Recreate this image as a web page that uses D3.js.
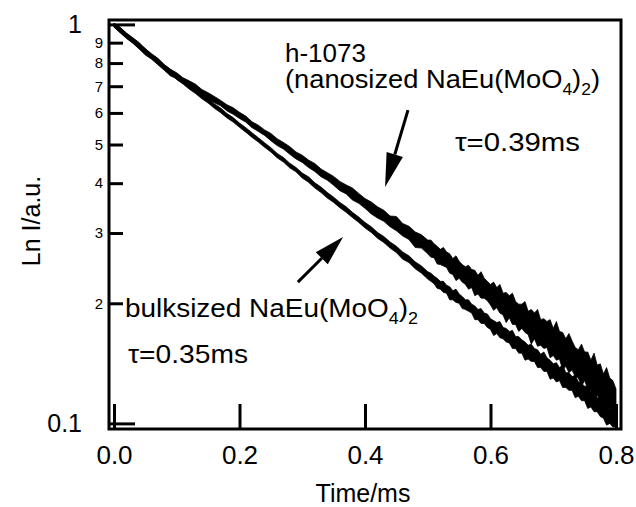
<!DOCTYPE html>
<html>
<head>
<meta charset="utf-8">
<script src="https://cdn.jsdelivr.net/npm/d3@7/dist/d3.min.js"></script>
<style>
  body { margin: 0; background: #fff; }
  text { font-family: "Liberation Sans", Arial, Helvetica, sans-serif; fill: #000; }
</style>
</head>
<body>
<svg id="chart" width="636" height="507"></svg>
<script>
// time axis (ms); sampled twice as densely after 0.5 ms where the noise grows
const time = [0.00,0.01,0.02,0.03,0.04,0.05,0.06,0.07,0.08,0.09,
  0.10,0.11,0.12,0.13,0.14,0.15,0.16,0.17,0.18,0.19,
  0.20,0.21,0.22,0.23,0.24,0.25,0.26,0.27,0.28,0.29,
  0.30,0.31,0.32,0.33,0.34,0.35,0.36,0.37,0.38,0.39,
  0.40,0.41,0.42,0.43,0.44,0.45,0.46,0.47,0.48,0.49,
  0.500,0.505,0.510,0.515,0.520,0.525,0.530,0.535,0.540,0.545,
  0.550,0.555,0.560,0.565,0.570,0.575,0.580,0.585,0.590,0.595,
  0.600,0.605,0.610,0.615,0.620,0.625,0.630,0.635,0.640,0.645,
  0.650,0.655,0.660,0.665,0.670,0.675,0.680,0.685,0.690,0.695,
  0.700,0.705,0.710,0.715,0.720,0.725,0.730,0.735,0.740,0.745,
  0.750,0.755,0.760,0.765,0.770,0.775,0.780,0.785,0.790,0.795,
  0.800];

// h-1073, nanosized NaEu(MoO4)2 (tau = 0.39 ms): upper / lower edge of the noisy trace
const nanoHi = [1.007,0.983,0.951,0.926,0.901,0.868,0.844,0.822,0.793,0.772,
  0.756,0.735,0.722,0.708,0.687,0.674,0.660,0.645,0.629,0.618,
  0.602,0.589,0.570,0.559,0.544,0.533,0.517,0.506,0.494,0.479,
  0.470,0.457,0.448,0.434,0.425,0.416,0.404,0.396,0.389,0.377,
  0.366,0.359,0.349,0.342,0.331,0.330,0.317,0.312,0.302,0.297,
  0.288,0.288,0.282,0.278,0.273,0.276,0.269,0.266,0.259,0.263,
  0.255,0.250,0.247,0.249,0.243,0.242,0.235,0.240,0.231,0.227,
  0.223,0.226,0.219,0.223,0.212,0.213,0.209,0.212,0.202,0.199,
  0.199,0.202,0.191,0.193,0.189,0.193,0.182,0.183,0.180,0.182,
  0.173,0.180,0.170,0.169,0.163,0.168,0.161,0.155,0.153,0.158,
  0.151,0.151,0.144,0.150,0.140,0.141,0.133,0.138,0.130,0.128,
  0.122];
const nanoLo = [0.984,0.952,0.922,0.897,0.868,0.838,0.818,0.792,0.768,0.743,
  0.731,0.712,0.695,0.684,0.666,0.649,0.636,0.625,0.607,0.595,
  0.581,0.569,0.551,0.539,0.527,0.511,0.497,0.487,0.473,0.460,
  0.451,0.438,0.428,0.415,0.407,0.395,0.383,0.376,0.363,0.356,
  0.346,0.335,0.327,0.321,0.311,0.304,0.295,0.289,0.276,0.275,
  0.266,0.261,0.260,0.251,0.250,0.248,0.246,0.238,0.236,0.228,
  0.231,0.226,0.223,0.217,0.219,0.209,0.211,0.206,0.206,0.203,
  0.198,0.192,0.195,0.189,0.187,0.179,0.184,0.177,0.177,0.170,
  0.173,0.169,0.167,0.158,0.163,0.156,0.157,0.154,0.155,0.146,
  0.148,0.144,0.145,0.136,0.139,0.134,0.136,0.131,0.130,0.124,
  0.128,0.122,0.121,0.115,0.118,0.113,0.112,0.106,0.110,0.105,
  0.106];

// bulksized NaEu(MoO4)2 (tau = 0.35 ms)
const bulkHi = [1.007,0.980,0.948,0.923,0.893,0.870,0.841,0.819,0.792,0.771,
  0.746,0.728,0.706,0.689,0.668,0.652,0.632,0.617,0.598,0.584,
  0.566,0.551,0.535,0.520,0.505,0.491,0.475,0.464,0.449,0.438,
  0.424,0.415,0.401,0.391,0.379,0.369,0.358,0.349,0.338,0.329,
  0.319,0.311,0.301,0.294,0.285,0.278,0.269,0.263,0.254,0.248,
  0.240,0.238,0.234,0.231,0.227,0.227,0.222,0.220,0.215,0.217,
  0.211,0.208,0.204,0.204,0.199,0.197,0.193,0.194,0.189,0.188,
  0.183,0.181,0.179,0.180,0.174,0.173,0.170,0.171,0.165,0.165,
  0.162,0.160,0.157,0.158,0.154,0.153,0.149,0.151,0.146,0.144,
  0.141,0.142,0.138,0.140,0.134,0.134,0.131,0.132,0.127,0.126,
  0.124,0.124,0.120,0.121,0.116,0.115,0.112,0.113,0.109,0.108,
  0.104];
const bulkLo = [0.984,0.955,0.924,0.899,0.870,0.847,0.820,0.798,0.772,0.752,
  0.727,0.709,0.688,0.671,0.651,0.635,0.616,0.601,0.583,0.569,
  0.552,0.537,0.521,0.507,0.492,0.479,0.463,0.452,0.437,0.427,
  0.412,0.402,0.389,0.379,0.367,0.358,0.347,0.338,0.328,0.319,
  0.309,0.301,0.291,0.284,0.275,0.268,0.258,0.253,0.244,0.238,
  0.230,0.227,0.224,0.218,0.217,0.213,0.212,0.204,0.204,0.201,
  0.200,0.194,0.193,0.191,0.189,0.182,0.182,0.178,0.178,0.174,
  0.172,0.166,0.168,0.164,0.163,0.160,0.159,0.154,0.154,0.150,
  0.150,0.144,0.145,0.143,0.143,0.138,0.138,0.135,0.135,0.129,
  0.130,0.127,0.128,0.123,0.123,0.121,0.121,0.116,0.117,0.114,
  0.114,0.109,0.110,0.107,0.107,0.104,0.103,0.099,0.100,0.098,
  0.098];

const xTicks = [0, 0.2, 0.4, 0.6, 0.8];
const xTickLabels = ["0.0", "0.2", "0.4", "0.6", "0.8"];
const yMajor = [0.1, 1];
const yMajorLabels = ["0.1", "1"];
const yMinor = [0.2, 0.3, 0.4, 0.5, 0.6, 0.7, 0.8, 0.9];
const yMinorLabels = ["2", "3", "4", "5", "6", "7", "8", "9"];

const svg = d3.select("#chart");

// plot box
const box = {left: 109, right: 621, top: 20, bottom: 429};
const x = d3.scaleLinear().domain([0, 0.8]).range([114, 616]);
const y = d3.scaleLog().domain([0.1, 1]).range([423.4, 24.4]);

const nano = time.map((t, i) => ({t, hi: nanoHi[i], lo: nanoLo[i]}));
const bulk = time.map((t, i) => ({t, hi: bulkHi[i], lo: bulkLo[i]}));

const band = d3.area().x(d => x(d.t)).y0(d => y(d.lo)).y1(d => y(d.hi));

[bulk, nano].forEach(s => {
  svg.append("path").datum(s)
    .attr("d", band).attr("fill", "#000")
    .attr("stroke", "#000").attr("stroke-width", 0.8).attr("stroke-linejoin", "miter");
});

// x axis, ticks pointing in
const xAxis = svg.append("g")
  .attr("transform", `translate(0,${box.bottom})`)
  .call(d3.axisBottom(x).tickValues(xTicks).tickSize(-25).tickPadding(17)
    .tickFormat((d, i) => xTickLabels[i]));
xAxis.select(".domain").remove();
xAxis.selectAll("line").attr("stroke", "#000").attr("stroke-width", 3);
xAxis.selectAll("text").style("font-size", "26px").attr("fill", "#000");

// y axis major
const yAxis = svg.append("g")
  .attr("transform", `translate(${box.left},0)`)
  .call(d3.axisLeft(y).tickValues(yMajor).tickSize(-26).tickPadding(27)
    .tickFormat((d, i) => yMajorLabels[i]));
yAxis.select(".domain").remove();
yAxis.selectAll("line").attr("stroke", "#000").attr("stroke-width", 3);
yAxis.selectAll("text").style("font-size", "25px").attr("fill", "#000");

// y axis minor
const yAxis2 = svg.append("g")
  .attr("transform", `translate(${box.left},0)`)
  .call(d3.axisLeft(y).tickValues(yMinor).tickSize(-14).tickPadding(6)
    .tickFormat((d, i) => yMinorLabels[i]));
yAxis2.select(".domain").remove();
yAxis2.selectAll("line").attr("stroke", "#000").attr("stroke-width", 3);
yAxis2.selectAll("text").style("font-size", "15px").attr("fill", "#000");

// frame
svg.append("rect")
  .attr("x", box.left).attr("y", box.top)
  .attr("width", box.right - box.left).attr("height", box.bottom - box.top)
  .attr("fill", "none").attr("stroke", "#000").attr("stroke-width", 3);

// axis titles
svg.append("text")
  .attr("x", 363).attr("y", 502)
  .attr("text-anchor", "middle").style("font-size", "25px")
  .text("Time/ms");
svg.append("text")
  .attr("transform", "translate(40,221) rotate(-90)")
  .attr("text-anchor", "middle").style("font-size", "25px")
  .text("Ln I/a.u.");

// annotations
function label(t, v, len) {
  return svg.append("text")
    .attr("x", x(t)).attr("y", y(v))
    .attr("textLength", len).attr("lengthAdjust", "spacingAndGlyphs")
    .style("font-size", "25px");
}
function formula(sel, prefix, outer) {
  sel.append("tspan").text(prefix + "NaEu(MoO");
  sel.append("tspan").attr("dy", 7).style("font-size", "16px").text("4");
  sel.append("tspan").attr("dy", -7).text(")");
  sel.append("tspan").attr("dy", 7).style("font-size", "16px").text("2");
  if (outer) sel.append("tspan").attr("dy", -7).text(")");
}

label(0.2725, 0.805, 81).text("h-1073");
formula(label(0.2725, 0.693, 315), "(nanosized ", true);
label(0.5434, 0.482, 125).text("τ=0.39ms");
formula(label(0.0175, 0.185, 293), "bulksized ", false);
label(0.0223, 0.1417, 120).text("τ=0.35ms");

// arrows
function arrow(t0, v0, t1, v1, headLen, headW) {
  const x0 = x(t0), y0 = y(v0), x1 = x(t1), y1 = y(v1);
  const a = Math.atan2(y1 - y0, x1 - x0);
  const bx = x1 - headLen * Math.cos(a), by = y1 - headLen * Math.sin(a);
  const nx = -Math.sin(a) * headW / 2, ny = Math.cos(a) * headW / 2;
  svg.append("line")
    .attr("x1", x0).attr("y1", y0).attr("x2", bx).attr("y2", by)
    .attr("stroke", "#000").attr("stroke-width", 3);
  svg.append("path")
    .attr("d", `M${x1},${y1}L${bx + nx},${by + ny}L${bx - nx},${by - ny}Z`)
    .attr("fill", "#000");
}
arrow(0.4685, 0.610, 0.432, 0.391, 34, 17);
arrow(0.293, 0.226, 0.365, 0.293, 30, 17);
</script>
</body>
</html>
